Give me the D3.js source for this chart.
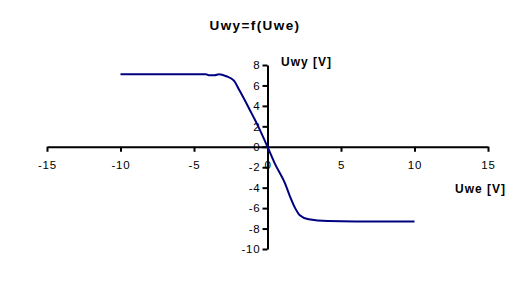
<!DOCTYPE html>
<html><head><meta charset="utf-8">
<script src="https://cdn.jsdelivr.net/npm/d3@7"></script>
<style>body{margin:0;background:#fff}svg{display:block}text{font-family:"Liberation Sans",Arial,sans-serif}</style>
</head><body><svg id="c" width="512" height="300"></svg>
<script>
const uwe = [-10, -8, -6, -4.2, -4.0, -3.6, -3.3, -2.8, -2.3, -1.9, -1.2, -0.6, 0, 0.5, 1.2, 1.5, 1.9, 2.2, 2.8, 4.1, 6, 8, 10];
const uwy = [7.1, 7.1, 7.1, 7.1, 7.0, 7.0, 7.1, 6.9, 6.5, 5.5, 3.6, 1.9, 0, -1.65, -3.6, -4.75, -6.05, -6.7, -7.1, -7.27, -7.3, -7.3, -7.3];
const xTicks = [-15, -10, -5, 0, 5, 10, 15];
const yTicks = [-10, -8, -6, -4, -2, 0, 2, 4, 6, 8];
const title = "Uwy=f(Uwe)", xTitle = "Uwe [V]", yTitle = "Uwy [V]";

const svg = d3.select("#c");
const x = d3.scaleLinear().domain([-15, 15]).range([47, 488]);
const y = d3.scaleLinear().domain([-10, 8]).range([249, 65]);
const fmt = d => String(d);

const xAxis = svg.append("g").attr("transform", `translate(0,${y(0)})`)
  .call(d3.axisBottom(x).tickValues(xTicks).tickFormat(fmt).tickSize(5).tickPadding(9).tickSizeOuter(0));
const yAxis = svg.append("g").attr("transform", `translate(${x(0)},0)`)
  .call(d3.axisLeft(y).tickValues(yTicks).tickFormat(fmt).tickSize(5).tickPadding(2).tickSizeOuter(0));
[xAxis, yAxis].forEach(g => {
  g.select(".domain").attr("stroke", "#000").attr("stroke-width", 2);
  g.selectAll(".tick line").attr("stroke", "#000").attr("stroke-width", 2);
  g.selectAll(".tick text").attr("fill", "#000").attr("font-size", 11.5)
    .attr("letter-spacing", 0.8).attr("font-family", '"Liberation Sans",Arial,sans-serif');
});

const line = d3.line().x(d => x(d[0])).y(d => y(d[1])).curve(d3.curveMonotoneX);
svg.append("path").datum(d3.zip(uwe, uwy)).attr("d", line)
  .attr("fill", "none").attr("stroke", "#000080").attr("stroke-width", 2);

svg.append("text").attr("x", 255).attr("y", 30).attr("text-anchor", "middle")
  .attr("font-size", 13.5).attr("font-weight", "bold").attr("letter-spacing", 1.4).text(title);
svg.append("text").attr("x", 281).attr("y", 66)
  .attr("font-size", 12).attr("font-weight", "bold").attr("letter-spacing", 1).text(yTitle);
svg.append("text").attr("x", 455).attr("y", 193)
  .attr("font-size", 12).attr("font-weight", "bold").attr("letter-spacing", 1).text(xTitle);
</script></body></html>
